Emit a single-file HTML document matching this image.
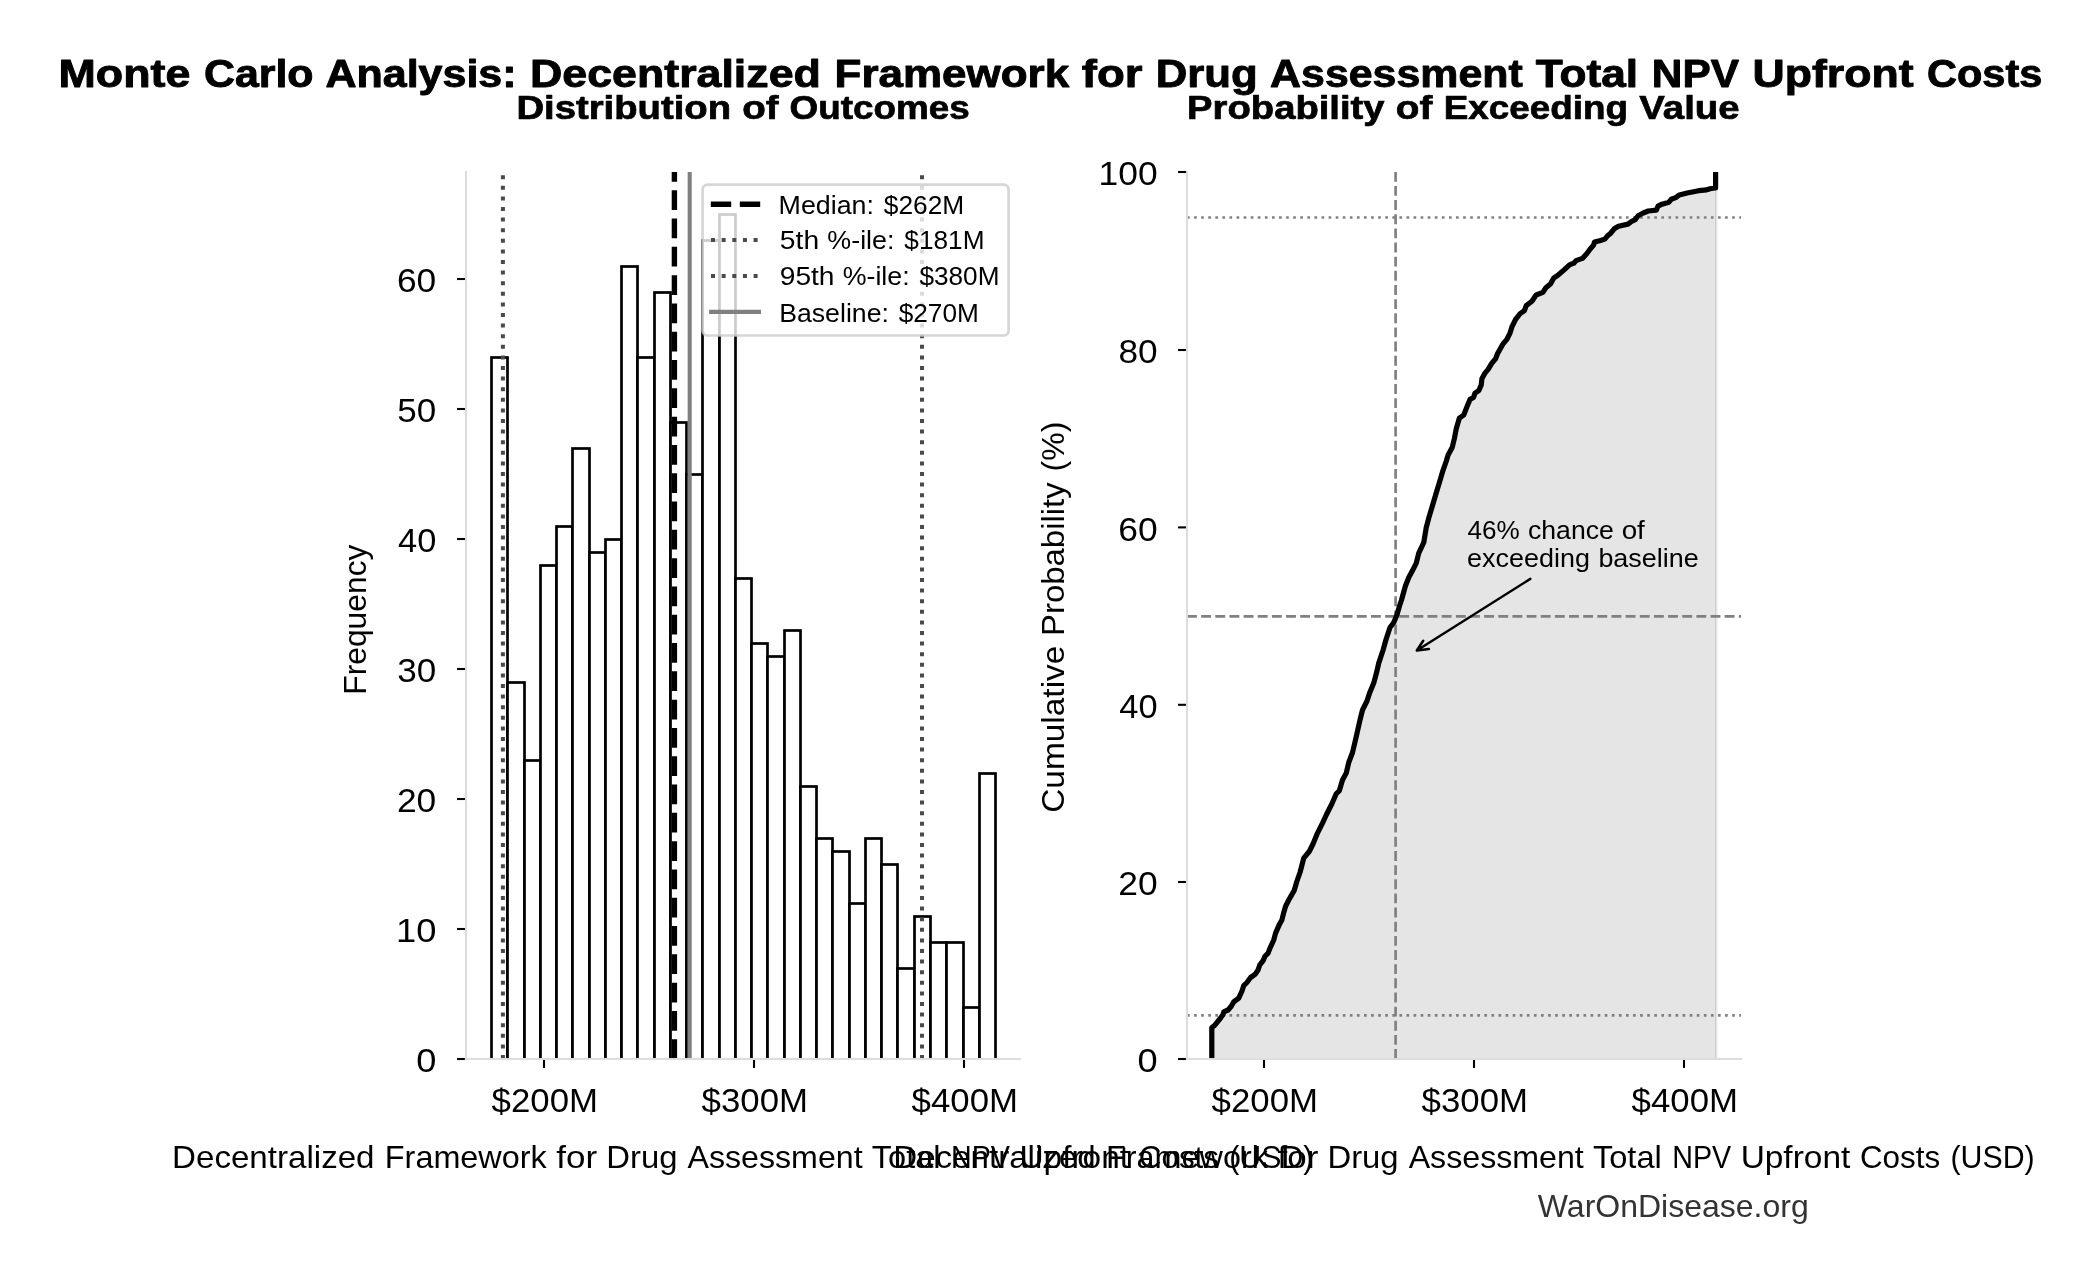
<!DOCTYPE html>
<html><head><meta charset="utf-8"><title>Monte Carlo Analysis</title>
<style>
html,body{margin:0;padding:0;background:#fff;}
body{width:2099px;height:1280px;overflow:hidden;}
svg{display:block;will-change:transform;font-family:"Liberation Sans", sans-serif;}
text{white-space:pre;}
</style></head><body>
<svg width="2099" height="1280" viewBox="0 0 2099 1280">
<rect width="2099" height="1280" fill="#fff"/>
<clipPath id="c1"><rect x="466.0" y="170.0" width="554.0" height="889.0"/></clipPath>
<g clip-path="url(#c1)">
<rect x="491.50" y="357.50" width="16.00" height="701.90" fill="#fff" stroke="#000" stroke-width="2.7"/>
<rect x="507.50" y="682.50" width="17.00" height="376.90" fill="#fff" stroke="#000" stroke-width="2.7"/>
<rect x="524.50" y="760.50" width="16.00" height="298.90" fill="#fff" stroke="#000" stroke-width="2.7"/>
<rect x="540.50" y="565.50" width="16.00" height="493.90" fill="#fff" stroke="#000" stroke-width="2.7"/>
<rect x="556.50" y="526.50" width="16.00" height="532.90" fill="#fff" stroke="#000" stroke-width="2.7"/>
<rect x="572.50" y="448.50" width="17.00" height="610.90" fill="#fff" stroke="#000" stroke-width="2.7"/>
<rect x="589.50" y="552.50" width="16.00" height="506.90" fill="#fff" stroke="#000" stroke-width="2.7"/>
<rect x="605.50" y="539.50" width="16.00" height="519.90" fill="#fff" stroke="#000" stroke-width="2.7"/>
<rect x="621.50" y="266.50" width="16.00" height="792.90" fill="#fff" stroke="#000" stroke-width="2.7"/>
<rect x="637.50" y="357.50" width="17.00" height="701.90" fill="#fff" stroke="#000" stroke-width="2.7"/>
<rect x="654.50" y="292.50" width="16.00" height="766.90" fill="#fff" stroke="#000" stroke-width="2.7"/>
<rect x="670.50" y="422.50" width="16.00" height="636.90" fill="#fff" stroke="#000" stroke-width="2.7"/>
<rect x="686.50" y="474.50" width="16.00" height="584.90" fill="#fff" stroke="#000" stroke-width="2.7"/>
<rect x="702.50" y="240.50" width="17.00" height="818.90" fill="#fff" stroke="#000" stroke-width="2.7"/>
<rect x="719.50" y="214.50" width="16.00" height="844.90" fill="#fff" stroke="#000" stroke-width="2.7"/>
<rect x="735.50" y="578.50" width="16.00" height="480.90" fill="#fff" stroke="#000" stroke-width="2.7"/>
<rect x="751.50" y="643.50" width="16.00" height="415.90" fill="#fff" stroke="#000" stroke-width="2.7"/>
<rect x="767.50" y="656.50" width="17.00" height="402.90" fill="#fff" stroke="#000" stroke-width="2.7"/>
<rect x="784.50" y="630.50" width="16.00" height="428.90" fill="#fff" stroke="#000" stroke-width="2.7"/>
<rect x="800.50" y="786.50" width="16.00" height="272.90" fill="#fff" stroke="#000" stroke-width="2.7"/>
<rect x="816.50" y="838.50" width="16.00" height="220.90" fill="#fff" stroke="#000" stroke-width="2.7"/>
<rect x="832.50" y="851.50" width="17.00" height="207.90" fill="#fff" stroke="#000" stroke-width="2.7"/>
<rect x="849.50" y="903.50" width="16.00" height="155.90" fill="#fff" stroke="#000" stroke-width="2.7"/>
<rect x="865.50" y="838.50" width="16.00" height="220.90" fill="#fff" stroke="#000" stroke-width="2.7"/>
<rect x="881.50" y="864.50" width="16.00" height="194.90" fill="#fff" stroke="#000" stroke-width="2.7"/>
<rect x="897.50" y="968.50" width="17.00" height="90.90" fill="#fff" stroke="#000" stroke-width="2.7"/>
<rect x="914.50" y="916.50" width="16.00" height="142.90" fill="#fff" stroke="#000" stroke-width="2.7"/>
<rect x="930.50" y="942.50" width="16.00" height="116.90" fill="#fff" stroke="#000" stroke-width="2.7"/>
<rect x="946.50" y="942.50" width="17.00" height="116.90" fill="#fff" stroke="#000" stroke-width="2.7"/>
<rect x="963.50" y="1007.50" width="16.00" height="51.90" fill="#fff" stroke="#000" stroke-width="2.7"/>
<rect x="979.50" y="773.50" width="16.00" height="285.90" fill="#fff" stroke="#000" stroke-width="2.7"/>
</g>
<line x1="502.9" y1="1059.0" x2="502.9" y2="172.0" stroke="#4a4a4a" stroke-width="4" stroke-dasharray="4 6.6"/>
<line x1="922.0" y1="1059.0" x2="922.0" y2="172.0" stroke="#4a4a4a" stroke-width="4" stroke-dasharray="4 6.6"/>
<line x1="674.4" y1="1059.0" x2="674.4" y2="172.0" stroke="#000" stroke-width="5.4" stroke-dasharray="19.76 8.54"/>
<line x1="689.7" y1="1059.0" x2="689.7" y2="172.0" stroke="#808080" stroke-width="4.1"/>
<line x1="457.05" y1="1059.00" x2="466.0" y2="1059.00" stroke="#000" stroke-width="2.1"/>
<text transform="translate(416.15,1072.20) scale(1.1154,1)" font-size="32.5" fill="#000">0</text>
<line x1="457.05" y1="929.00" x2="466.0" y2="929.00" stroke="#000" stroke-width="2.1"/>
<text transform="translate(395.98,942.20) scale(1.1169,1)" font-size="32.5" fill="#000">10</text>
<line x1="457.05" y1="799.00" x2="466.0" y2="799.00" stroke="#000" stroke-width="2.1"/>
<text transform="translate(396.93,812.20) scale(1.0897,1)" font-size="32.5" fill="#000">20</text>
<line x1="457.05" y1="669.00" x2="466.0" y2="669.00" stroke="#000" stroke-width="2.1"/>
<text transform="translate(397.30,682.20) scale(1.0792,1)" font-size="32.5" fill="#000">30</text>
<line x1="457.05" y1="539.00" x2="466.0" y2="539.00" stroke="#000" stroke-width="2.1"/>
<text transform="translate(398.01,552.20) scale(1.0587,1)" font-size="32.5" fill="#000">40</text>
<line x1="457.05" y1="409.00" x2="466.0" y2="409.00" stroke="#000" stroke-width="2.1"/>
<text transform="translate(397.30,422.20) scale(1.0792,1)" font-size="32.5" fill="#000">50</text>
<line x1="457.05" y1="279.00" x2="466.0" y2="279.00" stroke="#000" stroke-width="2.1"/>
<text transform="translate(396.93,292.20) scale(1.0897,1)" font-size="32.5" fill="#000">60</text>
<line x1="544.0" y1="1059.0" x2="544.0" y2="1067.95" stroke="#000" stroke-width="2.1"/>
<text transform="translate(491.60,1112.00) scale(1.0710,1)" font-size="32.5" fill="#000">$200M</text>
<line x1="754.0" y1="1059.0" x2="754.0" y2="1067.95" stroke="#000" stroke-width="2.1"/>
<text transform="translate(701.60,1112.00) scale(1.0710,1)" font-size="32.5" fill="#000">$300M</text>
<line x1="964.0" y1="1059.0" x2="964.0" y2="1067.95" stroke="#000" stroke-width="2.1"/>
<text transform="translate(911.60,1112.00) scale(1.0710,1)" font-size="32.5" fill="#000">$400M</text>
<line x1="466.0" y1="171.0" x2="466.0" y2="1060.1" stroke="#dddddd" stroke-width="2.1"/>
<line x1="464.9" y1="1059.0" x2="1021.0" y2="1059.0" stroke="#dddddd" stroke-width="2.1"/>
<rect x="702.6" y="184.6" width="306.0" height="150.9" rx="5" ry="5" fill="#fff" fill-opacity="0.8" stroke="#ccc" stroke-opacity="0.8" stroke-width="2.7"/>
<line x1="710.8" y1="204.3" x2="762" y2="204.3" stroke="#000" stroke-width="5.6" stroke-dasharray="20.4 8.6"/>
<line x1="711" y1="240" x2="762" y2="240" stroke="#4a4a4a" stroke-width="4" stroke-dasharray="4 6.65"/>
<line x1="711" y1="275.9" x2="762" y2="275.9" stroke="#4a4a4a" stroke-width="4" stroke-dasharray="4 6.65"/>
<line x1="709.1" y1="311.9" x2="761" y2="311.9" stroke="#808080" stroke-width="4.2"/>
<text transform="translate(778.55,213.70) scale(1.0356,1)" font-size="25.9" fill="#000">Median:</text>
<text transform="translate(883.86,213.70) scale(1.0155,1)" font-size="25.9" fill="#000">$262M</text>
<text transform="translate(779.87,249.40) scale(1.0905,1)" font-size="25.9" fill="#000">5th</text>
<text transform="translate(827.33,249.40) scale(1.0369,1)" font-size="25.9" fill="#000">%-ile:</text>
<text transform="translate(904.37,249.40) scale(1.0127,1)" font-size="25.9" fill="#000">$181M</text>
<text transform="translate(779.73,285.30) scale(1.0874,1)" font-size="25.9" fill="#000">95th</text>
<text transform="translate(842.71,285.30) scale(1.0336,1)" font-size="25.9" fill="#000">%-ile:</text>
<text transform="translate(919.51,285.30) scale(1.0095,1)" font-size="25.9" fill="#000">$380M</text>
<text transform="translate(779.17,321.50) scale(1.0301,1)" font-size="25.9" fill="#000">Baseline:</text>
<text transform="translate(898.68,321.50) scale(1.0125,1)" font-size="25.9" fill="#000">$270M</text>
<polygon points="1211.80,1059.00 1211.80,1027.50 1214.40,1025.60 1220.00,1018.75 1223.10,1014.40 1223.75,1011.90 1228.10,1010.00 1231.25,1006.25 1233.75,1001.90 1238.75,998.10 1241.90,991.25 1243.75,985.60 1246.90,982.50 1250.60,977.50 1255.00,974.40 1258.10,970.00 1259.75,965.00 1263.10,960.60 1265.00,956.25 1268.10,953.10 1270.00,948.10 1273.75,940.00 1275.60,933.10 1279.40,924.40 1281.90,920.00 1283.75,912.50 1285.60,906.25 1288.75,900.00 1291.25,895.60 1294.20,890.50 1296.90,881.25 1300.00,872.50 1303.75,858.10 1309.40,851.25 1313.10,843.75 1317.50,833.10 1322.50,823.10 1326.25,815.00 1331.90,803.75 1336.25,793.75 1339.40,790.60 1342.50,780.00 1346.25,773.10 1348.75,762.50 1352.50,752.50 1354.40,744.50 1356.90,733.75 1360.00,720.00 1362.50,710.00 1366.90,701.25 1370.00,691.90 1373.75,683.10 1376.90,671.25 1378.75,663.10 1383.10,650.00 1386.25,638.75 1390.00,627.50 1393.75,622.50 1396.90,615.00 1399.40,606.25 1401.50,600.00 1405.40,586.00 1408.75,577.50 1412.50,570.60 1416.25,563.10 1418.75,553.10 1423.75,542.50 1426.25,527.50 1428.75,518.10 1431.90,507.50 1435.60,495.00 1439.40,482.50 1442.50,471.90 1446.25,461.25 1448.10,455.00 1452.20,447.50 1454.40,438.50 1456.25,428.75 1459.40,418.10 1463.75,415.00 1466.90,406.90 1470.00,399.40 1473.50,397.50 1475.00,393.10 1478.75,390.60 1481.25,385.00 1481.90,378.75 1485.00,373.10 1488.10,369.40 1491.90,363.10 1495.60,358.75 1497.50,353.75 1503.10,343.75 1506.90,339.40 1510.00,333.10 1511.90,326.90 1515.60,319.40 1520.00,313.75 1524.40,310.60 1526.25,305.60 1531.90,301.25 1536.10,295.00 1542.90,292.40 1545.90,287.70 1550.60,283.80 1553.60,278.20 1558.40,274.80 1564.40,269.60 1569.50,264.90 1573.80,263.20 1576.00,260.60 1582.40,258.40 1586.70,253.70 1590.20,249.00 1593.60,245.10 1594.50,242.10 1599.60,240.80 1604.80,239.10 1607.30,236.10 1610.40,233.50 1614.20,228.80 1618.50,226.20 1628.00,224.10 1631.40,221.50 1635.20,219.60 1638.10,215.70 1643.20,213.00 1648.30,211.00 1656.30,210.20 1658.00,206.20 1662.00,204.20 1668.90,202.20 1671.20,199.30 1675.70,197.60 1679.20,195.00 1687.20,193.00 1698.60,190.70 1706.60,189.90 1710.00,188.70 1714.60,187.90 1715.60,188.00 1716.30,188.00 1716.30,1059.00" fill="#e5e5e5"/>
<rect x="1716.3" y="187" width="1.3" height="872.0" fill="#ebebeb"/>
<rect x="1715.0" y="189" width="1.3" height="870.0" fill="#cecece"/>
<line x1="1395.6" y1="1059.0" x2="1395.6" y2="172.0" stroke="#808080" stroke-width="2.67" stroke-dasharray="9.88 4.27"/>
<line x1="1187.0" y1="616.3" x2="1741.0" y2="616.3" stroke="#808080" stroke-width="2.67" stroke-dasharray="9.88 4.27"/>
<line x1="1187.0" y1="217.5" x2="1741.0" y2="217.5" stroke="#808080" stroke-width="2.67" stroke-dasharray="2.67 4.41"/>
<line x1="1187.0" y1="1015.4" x2="1741.0" y2="1015.4" stroke="#808080" stroke-width="2.67" stroke-dasharray="2.67 4.41"/>
<line x1="1178.05" y1="1059.00" x2="1187.0" y2="1059.00" stroke="#000" stroke-width="2.1"/>
<text transform="translate(1137.45,1072.20) scale(1.1154,1)" font-size="32.5" fill="#000">0</text>
<line x1="1178.05" y1="882.00" x2="1187.0" y2="882.00" stroke="#000" stroke-width="2.1"/>
<text transform="translate(1118.23,895.20) scale(1.0897,1)" font-size="32.5" fill="#000">20</text>
<line x1="1178.05" y1="704.80" x2="1187.0" y2="704.80" stroke="#000" stroke-width="2.1"/>
<text transform="translate(1119.31,718.00) scale(1.0587,1)" font-size="32.5" fill="#000">40</text>
<line x1="1178.05" y1="527.40" x2="1187.0" y2="527.40" stroke="#000" stroke-width="2.1"/>
<text transform="translate(1118.23,540.60) scale(1.0897,1)" font-size="32.5" fill="#000">60</text>
<line x1="1178.05" y1="350.00" x2="1187.0" y2="350.00" stroke="#000" stroke-width="2.1"/>
<text transform="translate(1118.41,363.20) scale(1.0844,1)" font-size="32.5" fill="#000">80</text>
<line x1="1178.05" y1="172.00" x2="1187.0" y2="172.00" stroke="#000" stroke-width="2.1"/>
<text transform="translate(1098.54,185.20) scale(1.0903,1)" font-size="32.5" fill="#000">100</text>
<line x1="1264.0" y1="1059.0" x2="1264.0" y2="1067.95" stroke="#000" stroke-width="2.1"/>
<text transform="translate(1211.60,1112.00) scale(1.0710,1)" font-size="32.5" fill="#000">$200M</text>
<line x1="1474.0" y1="1059.0" x2="1474.0" y2="1067.95" stroke="#000" stroke-width="2.1"/>
<text transform="translate(1421.60,1112.00) scale(1.0710,1)" font-size="32.5" fill="#000">$300M</text>
<line x1="1684.0" y1="1059.0" x2="1684.0" y2="1067.95" stroke="#000" stroke-width="2.1"/>
<text transform="translate(1631.60,1112.00) scale(1.0710,1)" font-size="32.5" fill="#000">$400M</text>
<polyline points="1211.80,1059.00 1211.80,1027.50 1214.40,1025.60 1220.00,1018.75 1223.10,1014.40 1223.75,1011.90 1228.10,1010.00 1231.25,1006.25 1233.75,1001.90 1238.75,998.10 1241.90,991.25 1243.75,985.60 1246.90,982.50 1250.60,977.50 1255.00,974.40 1258.10,970.00 1259.75,965.00 1263.10,960.60 1265.00,956.25 1268.10,953.10 1270.00,948.10 1273.75,940.00 1275.60,933.10 1279.40,924.40 1281.90,920.00 1283.75,912.50 1285.60,906.25 1288.75,900.00 1291.25,895.60 1294.20,890.50 1296.90,881.25 1300.00,872.50 1303.75,858.10 1309.40,851.25 1313.10,843.75 1317.50,833.10 1322.50,823.10 1326.25,815.00 1331.90,803.75 1336.25,793.75 1339.40,790.60 1342.50,780.00 1346.25,773.10 1348.75,762.50 1352.50,752.50 1354.40,744.50 1356.90,733.75 1360.00,720.00 1362.50,710.00 1366.90,701.25 1370.00,691.90 1373.75,683.10 1376.90,671.25 1378.75,663.10 1383.10,650.00 1386.25,638.75 1390.00,627.50 1393.75,622.50 1396.90,615.00 1399.40,606.25 1401.50,600.00 1405.40,586.00 1408.75,577.50 1412.50,570.60 1416.25,563.10 1418.75,553.10 1423.75,542.50 1426.25,527.50 1428.75,518.10 1431.90,507.50 1435.60,495.00 1439.40,482.50 1442.50,471.90 1446.25,461.25 1448.10,455.00 1452.20,447.50 1454.40,438.50 1456.25,428.75 1459.40,418.10 1463.75,415.00 1466.90,406.90 1470.00,399.40 1473.50,397.50 1475.00,393.10 1478.75,390.60 1481.25,385.00 1481.90,378.75 1485.00,373.10 1488.10,369.40 1491.90,363.10 1495.60,358.75 1497.50,353.75 1503.10,343.75 1506.90,339.40 1510.00,333.10 1511.90,326.90 1515.60,319.40 1520.00,313.75 1524.40,310.60 1526.25,305.60 1531.90,301.25 1536.10,295.00 1542.90,292.40 1545.90,287.70 1550.60,283.80 1553.60,278.20 1558.40,274.80 1564.40,269.60 1569.50,264.90 1573.80,263.20 1576.00,260.60 1582.40,258.40 1586.70,253.70 1590.20,249.00 1593.60,245.10 1594.50,242.10 1599.60,240.80 1604.80,239.10 1607.30,236.10 1610.40,233.50 1614.20,228.80 1618.50,226.20 1628.00,224.10 1631.40,221.50 1635.20,219.60 1638.10,215.70 1643.20,213.00 1648.30,211.00 1656.30,210.20 1658.00,206.20 1662.00,204.20 1668.90,202.20 1671.20,199.30 1675.70,197.60 1679.20,195.00 1687.20,193.00 1698.60,190.70 1706.60,189.90 1710.00,188.70 1714.60,187.90 1715.60,188.00 1715.60,172.00" fill="none" stroke="#000" stroke-width="5.2" stroke-linejoin="round"/>
<line x1="1187.0" y1="171.0" x2="1187.0" y2="1060.1" stroke="#dddddd" stroke-width="2.1"/>
<line x1="1185.9" y1="1059.0" x2="1742.0" y2="1059.0" stroke="#dddddd" stroke-width="2.1"/>
<text transform="translate(1467.58,538.60) scale(1.0077,1)" font-size="25.9" fill="#000">46%</text>
<text transform="translate(1527.99,538.60) scale(1.0275,1)" font-size="25.9" fill="#000">chance</text>
<text transform="translate(1621.64,538.60) scale(1.0756,1)" font-size="25.9" fill="#000">of</text>
<text transform="translate(1467.02,566.50) scale(1.0408,1)" font-size="25.9" fill="#000">exceeding</text>
<text transform="translate(1598.38,566.50) scale(1.0410,1)" font-size="25.9" fill="#000">baseline</text>
<path d="M1530.3,578.9 L1416.8,650.5 M1423.2,640.7 L1416.8,650.5 L1428.9,649.1" fill="none" stroke="#000" stroke-width="2.5" stroke-linecap="round" stroke-linejoin="round"/>
<text transform="translate(58.49,87.20) scale(1.1517,1)" font-size="38.9" font-weight="bold" fill="#000" stroke="#000" stroke-width="0.9" stroke-linejoin="round">Monte</text>
<text transform="translate(203.91,87.20) scale(1.1026,1)" font-size="38.9" font-weight="bold" fill="#000" stroke="#000" stroke-width="0.9" stroke-linejoin="round">Carlo</text>
<text transform="translate(325.47,87.20) scale(1.1053,1)" font-size="38.9" font-weight="bold" fill="#000" stroke="#000" stroke-width="0.9" stroke-linejoin="round">Analysis:</text>
<text transform="translate(530.03,87.20) scale(1.1502,1)" font-size="38.9" font-weight="bold" fill="#000" stroke="#000" stroke-width="0.9" stroke-linejoin="round">Decentralized</text>
<text transform="translate(834.62,87.20) scale(1.1305,1)" font-size="38.9" font-weight="bold" fill="#000" stroke="#000" stroke-width="0.9" stroke-linejoin="round">Framework</text>
<text transform="translate(1081.80,87.20) scale(1.1708,1)" font-size="38.9" font-weight="bold" fill="#000" stroke="#000" stroke-width="0.9" stroke-linejoin="round">for</text>
<text transform="translate(1155.65,87.20) scale(1.1247,1)" font-size="38.9" font-weight="bold" fill="#000" stroke="#000" stroke-width="0.9" stroke-linejoin="round">Drug</text>
<text transform="translate(1270.09,87.20) scale(1.1020,1)" font-size="38.9" font-weight="bold" fill="#000" stroke="#000" stroke-width="0.9" stroke-linejoin="round">Assessment</text>
<text transform="translate(1535.79,87.20) scale(1.1372,1)" font-size="38.9" font-weight="bold" fill="#000" stroke="#000" stroke-width="0.9" stroke-linejoin="round">Total</text>
<text transform="translate(1651.79,87.20) scale(1.0892,1)" font-size="38.9" font-weight="bold" fill="#000" stroke="#000" stroke-width="0.9" stroke-linejoin="round">NPV</text>
<text transform="translate(1752.48,87.20) scale(1.1471,1)" font-size="38.9" font-weight="bold" fill="#000" stroke="#000" stroke-width="0.9" stroke-linejoin="round">Upfront</text>
<text transform="translate(1926.99,87.20) scale(1.0679,1)" font-size="38.9" font-weight="bold" fill="#000" stroke="#000" stroke-width="0.9" stroke-linejoin="round">Costs</text>
<text transform="translate(516.41,119.00) scale(1.1600,1)" font-size="33.0" font-weight="bold" fill="#000" stroke="#000" stroke-width="0.7" stroke-linejoin="round">Distribution</text>
<text transform="translate(742.13,119.00) scale(1.1673,1)" font-size="33.0" font-weight="bold" fill="#000" stroke="#000" stroke-width="0.7" stroke-linejoin="round">of</text>
<text transform="translate(789.54,119.00) scale(1.1163,1)" font-size="33.0" font-weight="bold" fill="#000" stroke="#000" stroke-width="0.7" stroke-linejoin="round">Outcomes</text>
<text transform="translate(1187.12,119.00) scale(1.1583,1)" font-size="33.0" font-weight="bold" fill="#000" stroke="#000" stroke-width="0.7" stroke-linejoin="round">Probability</text>
<text transform="translate(1395.84,119.00) scale(1.1710,1)" font-size="33.0" font-weight="bold" fill="#000" stroke="#000" stroke-width="0.7" stroke-linejoin="round">of</text>
<text transform="translate(1443.77,119.00) scale(1.1160,1)" font-size="33.0" font-weight="bold" fill="#000" stroke="#000" stroke-width="0.7" stroke-linejoin="round">Exceeding</text>
<text transform="translate(1639.35,119.00) scale(1.1633,1)" font-size="33.0" font-weight="bold" fill="#000" stroke="#000" stroke-width="0.7" stroke-linejoin="round">Value</text>
<text transform="translate(172.05,1168.00) scale(1.0863,1)" font-size="30.5" fill="#000">Decentralized</text>
<text transform="translate(384.83,1168.00) scale(1.0619,1)" font-size="30.5" fill="#000">Framework</text>
<text transform="translate(556.33,1168.00) scale(1.1487,1)" font-size="30.5" fill="#000">for</text>
<text transform="translate(606.25,1168.00) scale(1.0765,1)" font-size="30.5" fill="#000">Drug</text>
<text transform="translate(687.46,1168.00) scale(1.0550,1)" font-size="30.5" fill="#000">Assessment</text>
<text transform="translate(871.73,1168.00) scale(1.0691,1)" font-size="30.5" fill="#000">Total</text>
<text transform="translate(951.03,1168.00) scale(0.9402,1)" font-size="30.5" fill="#000">NPV</text>
<text transform="translate(1019.43,1168.00) scale(1.0962,1)" font-size="30.5" fill="#000">Upfront</text>
<text transform="translate(1138.73,1168.00) scale(1.0303,1)" font-size="30.5" fill="#000">Costs</text>
<text transform="translate(1229.23,1168.00) scale(0.9948,1)" font-size="30.5" fill="#000">(USD)</text>
<text transform="translate(893.25,1168.00) scale(1.0863,1)" font-size="30.5" fill="#000">Decentralized</text>
<text transform="translate(1106.03,1168.00) scale(1.0619,1)" font-size="30.5" fill="#000">Framework</text>
<text transform="translate(1277.53,1168.00) scale(1.1487,1)" font-size="30.5" fill="#000">for</text>
<text transform="translate(1327.45,1168.00) scale(1.0765,1)" font-size="30.5" fill="#000">Drug</text>
<text transform="translate(1408.66,1168.00) scale(1.0550,1)" font-size="30.5" fill="#000">Assessment</text>
<text transform="translate(1592.93,1168.00) scale(1.0691,1)" font-size="30.5" fill="#000">Total</text>
<text transform="translate(1672.23,1168.00) scale(0.9402,1)" font-size="30.5" fill="#000">NPV</text>
<text transform="translate(1740.63,1168.00) scale(1.0962,1)" font-size="30.5" fill="#000">Upfront</text>
<text transform="translate(1859.93,1168.00) scale(1.0303,1)" font-size="30.5" fill="#000">Costs</text>
<text transform="translate(1950.43,1168.00) scale(0.9948,1)" font-size="30.5" fill="#000">(USD)</text>
<text transform="translate(366.00,694.74) rotate(-90) scale(1.0425,1)" font-size="30.5" fill="#000">Frequency</text>
<text transform="translate(1063.90,812.87) rotate(-90) scale(1.0970,1)" font-size="30.5" fill="#000">Cumulative</text>
<text transform="translate(1063.90,635.94) rotate(-90) scale(1.0791,1)" font-size="30.5" fill="#000">Probability</text>
<text transform="translate(1063.90,471.43) rotate(-90) scale(1.0482,1)" font-size="30.5" fill="#000">(%)</text>
<text transform="translate(1537.84,1216.90) scale(1.0498,1)" font-size="30.5" fill="#333">WarOnDisease.org</text>
</svg>
</body></html>
